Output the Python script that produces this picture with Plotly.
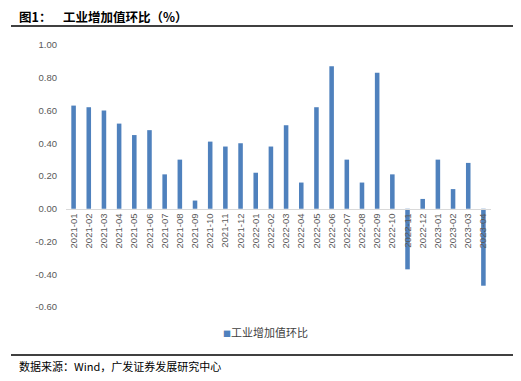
import plotly.graph_objects as go

months = ["2021-01", "2021-02", "2021-03", "2021-04", "2021-05", "2021-06", "2021-07",
          "2021-08", "2021-09", "2021-10", "2021-11", "2021-12", "2022-01", "2022-02",
          "2022-03", "2022-04", "2022-05", "2022-06", "2022-07", "2022-08", "2022-09",
          "2022-10", "2022-11", "2022-12", "2023-01", "2023-02", "2023-03", "2023-04"]
values = [0.63, 0.62, 0.60, 0.52, 0.45, 0.48, 0.21,
          0.30, 0.05, 0.41, 0.38, 0.40, 0.22, 0.38,
          0.51, 0.16, 0.62, 0.87, 0.30, 0.16, 0.83,
          0.21, -0.37, 0.06, 0.30, 0.12, 0.28, -0.47]
series_name = "工业增加值环比"
y_ticks = [1.0, 0.8, 0.6, 0.4, 0.2, 0.0, -0.2, -0.4, -0.6]
y_tick_text = ["1.00", "0.80", "0.60", "0.40", "0.20", "0.00", "-0.20", "-0.40", "-0.60"]
y_min, y_max = -0.6, 1.0

# page body has an 8px default margin; the figure is laid out in reference pixels minus 8
OFF = 8
W, H = 521 - OFF, 381 - OFF
L, R, T, B = 66 - OFF, 491 - OFF, 45 - OFF, 307 - OFF
PW, PH = R - L, B - T


def px(x):
    return (x - OFF - L) / PW


def py(y):
    return (B - (y - OFF)) / PH


CJK = "Noto Sans CJK SC"
NUM = "Liberation Sans, Arial"
BAR = "#4F81BD"

fig = go.Figure()
fig.add_trace(go.Bar(x=months, y=values, name=series_name, marker_color=BAR,
                     marker_line_width=0, showlegend=False))

zero_pos = (0 - y_min) / (y_max - y_min)

fig.update_layout(
    width=W, height=H,
    margin=dict(l=L, r=W - R, t=T, b=H - B, autoexpand=False),
    paper_bgcolor="white", plot_bgcolor="white",
    bargap=0.70,
    xaxis=dict(type="category", anchor="free", position=zero_pos,
               showline=True, linecolor="#D9D9D9", linewidth=1,
               ticks="", tickangle=-90, showgrid=False, automargin=False,
               tickfont=dict(family=NUM, size=9.5, color="#595959")),
    yaxis=dict(range=[y_min, y_max], tickvals=y_ticks, ticktext=y_tick_text,
               showgrid=False, zeroline=False, showline=False, ticks="", automargin=False,
               ticklabelstandoff=8,
               tickfont=dict(family=NUM, size=9.5, color="#595959")),
    showlegend=False,
    font=dict(family=CJK),
)

# legend entry
fig.add_annotation(text=f"<span style='color:{BAR};font-size:8px'>■</span>{series_name}",
                   x=px(221), y=py(332), xref="paper", yref="paper",
                   xanchor="left", yanchor="middle", showarrow=False,
                   font=dict(family=CJK, size=11, color="#404040"))

fig.add_annotation(text="<b>图1：</b>", x=px(18), y=py(16.5), xref="paper", yref="paper",
                   xanchor="left", yanchor="middle", showarrow=False, borderpad=0,
                   font=dict(family=CJK, size=12.5, color="#000000"))
fig.add_annotation(text="<b>工业增加值环比（%）</b>", x=px(62), y=py(16.5), xref="paper", yref="paper",
                   xanchor="left", yanchor="middle", showarrow=False, borderpad=0,
                   font=dict(family=CJK, size=12.5, color="#000000"))
fig.add_annotation(text="数据来源：Wind，广发证券发展研究中心", x=px(17), y=py(366),
                   xref="paper", yref="paper", xanchor="left", yanchor="middle",
                   showarrow=False, font=dict(family=CJK, size=11, color="#000000"))

fig.add_shape(type="line", xref="paper", yref="paper", x0=px(11), x1=px(520),
              y0=py(26), y1=py(26), line=dict(color="#000000", width=1.5))
fig.add_shape(type="line", xref="paper", yref="paper", x0=px(11), x1=px(517),
              y0=py(355), y1=py(355), line=dict(color="#000000", width=1.5))

fig.write_html("out.html")
